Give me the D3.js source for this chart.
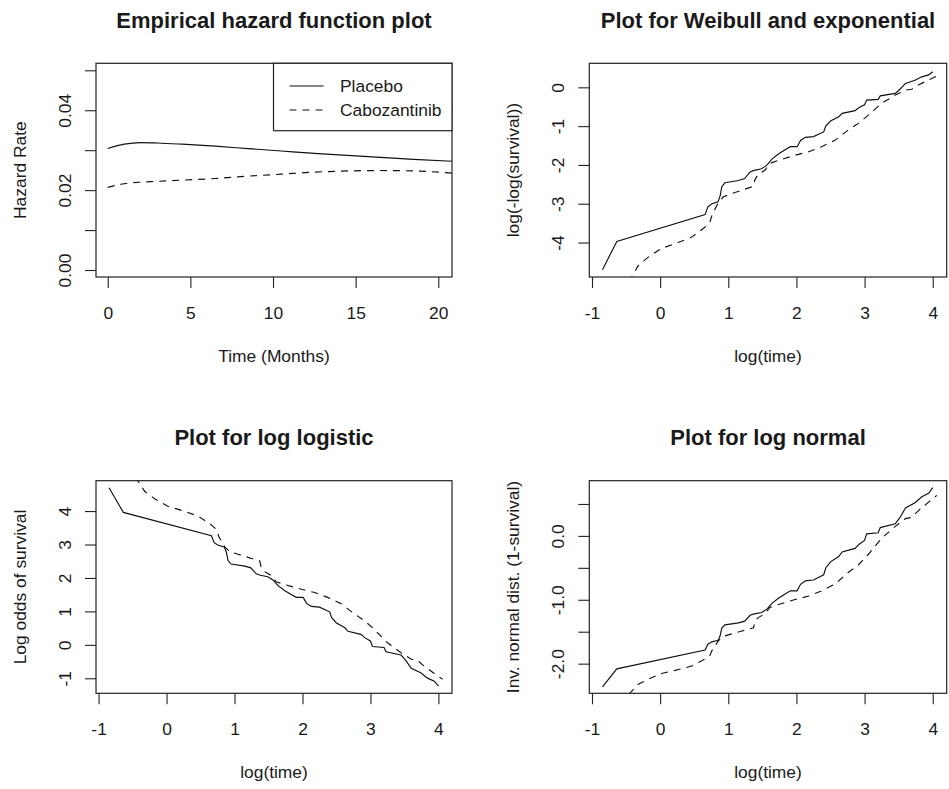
<!DOCTYPE html>
<html>
<head>
<meta charset="utf-8">
<script src="https://cdn.jsdelivr.net/npm/d3@7"></script>
<style>
  html, body { margin: 0; padding: 0; background: #fff; }
  svg { display: block; }
  text { font-family: "Liberation Sans", Arial, sans-serif; fill: #1a1a1a; }
</style>
</head>
<body>
<svg id="chart" width="949" height="789"></svg>
<script>
// ---- Empirical hazard (smoothed), months ----
const hazardTime      = [0, 1, 2, 3, 4.5, 6.5, 8.5, 10.5, 12.5, 14.5, 16.5, 18.5, 21];
const hazardPlacebo   = [0.0304, 0.0315, 0.0319, 0.0318, 0.0315, 0.0310, 0.0304, 0.0298, 0.0292, 0.0287, 0.0282, 0.0277, 0.0272];
const hazardCabo      = [0.0207, 0.0216, 0.0220, 0.0222, 0.0225, 0.0229, 0.0235, 0.0240, 0.0245, 0.0248, 0.0249, 0.0248, 0.0242];

// ---- Kaplan-Meier estimates on the complementary log-log scale: log(-log(S)) vs log(time) ----
const placeboLogTime = [-0.846, -0.636, 0.66, 0.70, 0.76, 0.85, 0.88, 0.905, 0.95, 1.15, 1.24, 1.32, 1.38, 1.49, 1.57, 1.64, 1.74, 1.84, 1.91, 2.01, 2.06, 2.13, 2.25, 2.40, 2.43, 2.50, 2.62, 2.67, 2.86, 2.92, 3.00, 3.03, 3.20, 3.23, 3.45, 3.52, 3.60, 3.74, 3.84, 3.94, 4.00];
const placeboCLL     = [-4.70, -3.97, -3.28, -3.08, -3.00, -2.95, -2.80, -2.56, -2.46, -2.40, -2.35, -2.18, -2.14, -2.10, -2.00, -1.85, -1.71, -1.60, -1.53, -1.53, -1.37, -1.29, -1.27, -1.15, -1.00, -0.87, -0.76, -0.67, -0.60, -0.52, -0.45, -0.33, -0.31, -0.22, -0.155, -0.05, 0.10, 0.18, 0.27, 0.32, 0.40];
const caboLogTime    = [-0.46, -0.32, -0.17, 0.02, 0.22, 0.465, 0.66, 0.73, 0.77, 0.81, 0.86, 0.93, 1.05, 1.20, 1.37, 1.39, 1.43, 1.54, 1.61, 1.74, 1.98, 2.18, 2.37, 2.57, 2.76, 2.91, 3.06, 3.25, 3.45, 3.60, 3.69, 3.79, 3.94, 4.06];
const caboCLL        = [-5.02, -4.59, -4.37, -4.15, -4.03, -3.86, -3.60, -3.47, -3.25, -3.12, -2.95, -2.82, -2.74, -2.65, -2.55, -2.39, -2.26, -2.13, -1.96, -1.88, -1.75, -1.66, -1.53, -1.36, -1.10, -0.93, -0.71, -0.41, -0.20, -0.07, -0.05, 0.06, 0.19, 0.29];

// ---- axis ticks / labels ----
const hazardXTicks = [0, 5, 10, 15, 20];
const hazardYTicks = [0, 0.01, 0.02, 0.03, 0.04, 0.05];
const hazardYLabelled = [0, 0.02, 0.04];
const logTimeTicks = [-1, 0, 1, 2, 3, 4];
const cllTicks = [-4, -3, -2, -1, 0];
const logitTicks = [-1, 0, 1, 2, 3, 4];
const probitTicks = [-2.0, -1.5, -1.0, -0.5, 0.0, 0.5];
const probitLabelled = [-2.0, -1.0, 0.0];
const groupNames = ["Placebo", "Cabozantinib"];

// inverse standard normal CDF (Acklam's rational approximation)
function qnorm(p) {
  const a = [-3.969683028665376e+01, 2.209460984245205e+02, -2.759285104469687e+02, 1.383577518672690e+02, -3.066479806614716e+01, 2.506628277459239e+00];
  const b = [-5.447609879822406e+01, 1.615858368580409e+02, -1.556989798598866e+02, 6.680131188771972e+01, -1.328068155288572e+01];
  const c = [-7.784894002430293e-03, -3.223964580411365e-01, -2.400758277161838e+00, -2.549732539343734e+00, 4.374664141464968e+00, 2.938163982698783e+00];
  const d = [7.784695709041462e-03, 3.224671290700398e-01, 2.445134137142996e+00, 3.754408661907416e+00];
  const plow = 0.02425, phigh = 1 - plow;
  if (p < plow) {
    const q = Math.sqrt(-2 * Math.log(p));
    return (((((c[0]*q+c[1])*q+c[2])*q+c[3])*q+c[4])*q+c[5]) / ((((d[0]*q+d[1])*q+d[2])*q+d[3])*q+1);
  }
  if (p <= phigh) {
    const q = p - 0.5, r = q * q;
    return (((((a[0]*r+a[1])*r+a[2])*r+a[3])*r+a[4])*r+a[5])*q / (((((b[0]*r+b[1])*r+b[2])*r+b[3])*r+b[4])*r+1);
  }
  const q = Math.sqrt(-2 * Math.log(1 - p));
  return -(((((c[0]*q+c[1])*q+c[2])*q+c[3])*q+c[4])*q+c[5]) / ((((d[0]*q+d[1])*q+d[2])*q+d[3])*q+1);
}

// transforms of the survival estimate S, given v = log(-log(S))
const survOf = v => Math.exp(-Math.exp(v));
const logOdds = v => { const s = survOf(v); return Math.log(s / -Math.expm1(-Math.exp(v))); };
const probit = v => qnorm(-Math.expm1(-Math.exp(v)));

const svg = d3.select("#chart");
const TICK = 11;
const DASH = "7,6";
const FONT = "'Liberation Sans', Arial, sans-serif";

function panel(opts) {
  const { id, box, xDomain, yDomain, xTicks, yTicks, yLabelled, yFmt, title, xLabel, yLabel, series, curve } = opts;
  const x = d3.scaleLinear().domain(xDomain).range([box.x0, box.x1]);
  const y = d3.scaleLinear().domain(yDomain).range([box.y1, box.y0]);
  const g = svg.append("g");

  g.append("clipPath").attr("id", "clip-" + id)
    .append("rect").attr("x", box.x0).attr("y", box.y0)
    .attr("width", box.x1 - box.x0).attr("height", box.y1 - box.y0);

  // x axis
  const xa = g.append("g").attr("transform", `translate(0,${box.y1})`)
    .call(d3.axisBottom(x).tickValues(xTicks).tickSize(TICK).tickSizeOuter(0).tickFormat(d => String(d)));
  xa.select(".domain").remove();
  xa.selectAll(".tick line").attr("stroke", "#222").attr("stroke-width", 1.1);
  xa.selectAll(".tick text").attr("y", 41.5).attr("dy", null)
    .attr("font-size", 17.4).attr("fill", "#1a1a1a").style("font-family", FONT);

  // y axis (labels rotated, reading upward)
  const isLabelled = d => !yLabelled || yLabelled.some(v => Math.abs(v - d) < 1e-9);
  const ya = g.append("g").attr("transform", `translate(${box.x0},0)`)
    .call(d3.axisLeft(y).tickValues(yTicks).tickSize(TICK).tickSizeOuter(0)
      .tickFormat(d => (isLabelled(d) ? yFmt(d) : "")));
  ya.select(".domain").remove();
  ya.selectAll(".tick line").attr("stroke", "#222").attr("stroke-width", 1.1);
  ya.selectAll(".tick text").attr("x", null).attr("dy", null)
    .attr("transform", "translate(-25.5,0) rotate(-90)")
    .attr("text-anchor", "middle")
    .attr("font-size", 17.4).attr("fill", "#1a1a1a").style("font-family", FONT);

  // series
  const line = d3.line().x(d => x(d[0])).y(d => y(d[1])).curve(curve || d3.curveLinear);
  const lines = g.append("g").attr("clip-path", `url(#clip-${id})`);
  series.forEach(s => {
    lines.append("path").datum(s.points)
      .attr("d", line).attr("fill", "none")
      .attr("stroke", "#111").attr("stroke-width", 1.15)
      .attr("stroke-dasharray", s.dashed ? DASH : null);
  });

  // frame
  g.append("rect").attr("x", box.x0).attr("y", box.y0)
    .attr("width", box.x1 - box.x0).attr("height", box.y1 - box.y0)
    .attr("fill", "none").attr("stroke", "#222").attr("stroke-width", 1.2);

  // titles
  const cx = (box.x0 + box.x1) / 2, cy = (box.y0 + box.y1) / 2;
  g.append("text").attr("x", cx).attr("y", box.y0 - 35.5).attr("text-anchor", "middle")
    .attr("font-size", 22).attr("font-weight", "bold").attr("fill", "#000").text(title);
  g.append("text").attr("x", cx).attr("y", box.y1 + 85).attr("text-anchor", "middle")
    .attr("font-size", 17.4).text(xLabel);
  g.append("text").attr("transform", `translate(${box.x0 - 70},${cy}) rotate(-90)`)
    .attr("text-anchor", "middle").attr("font-size", 17.4).text(yLabel);

  return { g, x, y };
}

const zip = (a, b) => a.map((v, i) => [v, b[i]]);
const fmt2 = d => d.toFixed(2);
const fmtInt = d => String(d);
const fmt1 = d => d.toFixed(1);

// Top-left: empirical hazard
const p1 = panel({
  id: "haz",
  box: { x0: 96, x1: 452, y0: 63.3, y1: 277 },
  xDomain: [-0.71, 20.83], yDomain: [-0.00175, 0.05175],
  xTicks: hazardXTicks, yTicks: hazardYTicks, yLabelled: hazardYLabelled, yFmt: fmt2,
  title: "Empirical hazard function plot", xLabel: "Time (Months)", yLabel: "Hazard Rate",
  curve: d3.curveMonotoneX,
  series: [
    { points: zip(hazardTime, hazardPlacebo), dashed: false },
    { points: zip(hazardTime, hazardCabo), dashed: true }
  ]
});

// legend
(function legend() {
  const lg = p1.g.append("g");
  lg.append("rect").attr("x", 273.5).attr("y", 63.3).attr("width", 452 - 273.5).attr("height", 130.7 - 63.3)
    .attr("fill", "#fff").attr("stroke", "#222").attr("stroke-width", 1.2);
  const rows = [{ name: groupNames[0], y: 86, dashed: false }, { name: groupNames[1], y: 110, dashed: true }];
  rows.forEach(r => {
    lg.append("line").attr("x1", 289.5).attr("x2", 323.5).attr("y1", r.y).attr("y2", r.y)
      .attr("stroke", "#111").attr("stroke-width", 1.15).attr("stroke-dasharray", r.dashed ? DASH : null);
    lg.append("text").attr("x", 340).attr("y", r.y + 6.2).attr("font-size", 17.4).text(r.name);
  });
})();

const xLogDomain = [-1.0396, 4.205];

// Top-right: Weibull / exponential check
panel({
  id: "cll",
  box: { x0: 589.3, x1: 946.7, y0: 63.3, y1: 277 },
  xDomain: xLogDomain, yDomain: [-4.888, 0.619],
  xTicks: logTimeTicks, yTicks: cllTicks, yFmt: fmtInt,
  title: "Plot for Weibull and exponential", xLabel: "log(time)", yLabel: "log(-log(survival))",
  series: [
    { points: zip(placeboLogTime, placeboCLL), dashed: false },
    { points: zip(caboLogTime, caboCLL), dashed: true }
  ]
});

// Bottom-left: log-logistic check
panel({
  id: "logit",
  box: { x0: 96, x1: 452, y0: 480.7, y1: 693.3 },
  xDomain: [-1.038, 4.2], yDomain: [-1.449, 4.908],
  xTicks: logTimeTicks, yTicks: logitTicks, yFmt: fmtInt,
  title: "Plot for log logistic", xLabel: "log(time)", yLabel: "Log odds of survival",
  series: [
    { points: zip(placeboLogTime, placeboCLL.map(logOdds)), dashed: false },
    { points: zip(caboLogTime, caboCLL.map(logOdds)), dashed: true }
  ]
});

// Bottom-right: log-normal check
panel({
  id: "probit",
  box: { x0: 589.3, x1: 946.7, y0: 480.7, y1: 693.3 },
  xDomain: xLogDomain, yDomain: [-2.464, 0.864],
  xTicks: logTimeTicks, yTicks: probitTicks, yLabelled: probitLabelled, yFmt: fmt1,
  title: "Plot for log normal", xLabel: "log(time)", yLabel: "Inv. normal dist. (1-survival)",
  series: [
    { points: zip(placeboLogTime, placeboCLL.map(probit)), dashed: false },
    { points: zip(caboLogTime, caboCLL.map(probit)), dashed: true }
  ]
});
</script>
</body>
</html>
